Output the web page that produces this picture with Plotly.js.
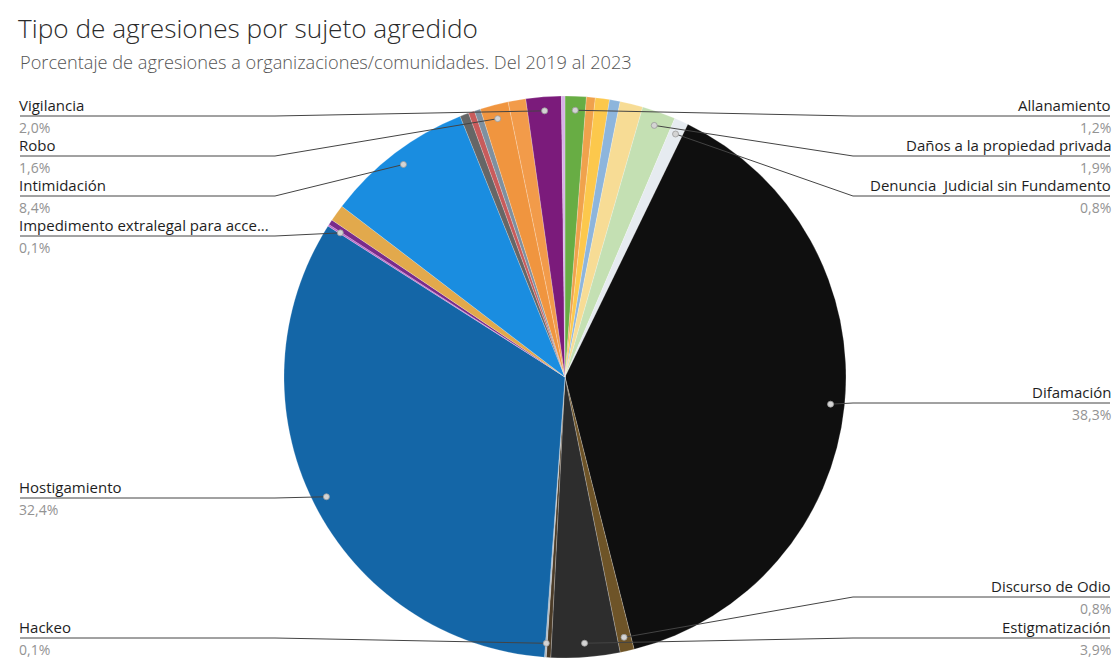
<!DOCTYPE html>
<html>
<head>
<meta charset="utf-8">
<script src="https://cdn.plot.ly/plotly-3.0.1.min.js"></script>
<style>html,body{margin:0;padding:0;background:#fff;}#chart{width:1120px;height:667px;}</style>
</head>
<body>
<div id="chart"></div>
<script>
// ---- data (clockwise from 12 o'clock) ----
const labels = [
  "Allanamiento", "Amenaza", "Ataque", "Campaña de desprestigio", "Criminalización",
  "Daños a la propiedad privada", "Denuncia  Judicial sin Fundamento", "Difamación",
  "Discurso de Odio", "Estigmatización", "Extorsión", "Hackeo", "Hostigamiento",
  "Impedimento extralegal para acce...", "Incautación", "Injerencia", "Intimidación",
  "Judicialización", "Lesiones", "Retención ilegal", "Robo", "Secuestro", "Vigilancia",
  "Violencia física"
];
const values = [
  1.2, 0.5, 0.8, 0.6, 1.3,
  1.9, 0.8, 38.3,
  0.8, 3.9, 0.25, 0.1, 32.4,
  0.1, 0.3, 0.95, 8.4,
  0.5, 0.35, 0.35, 1.6, 1.0, 2.0,
  0.2
];
const sliceColors = [
  "#68ad44", "#f0a24c", "#fcc84c", "#8db5dc", "#f7dc95",
  "#c4e0b3", "#e6ebf0", "#0f0f0f",
  "#6e5428", "#2d2d2d", "#4b3b27", "#a9b4bf", "#1466a7",
  "#c163c9", "#7a2b8b", "#e2a94c", "#1a8de0",
  "#666666", "#c85b5b", "#7f909f", "#f0953f", "#f29b4a", "#7b1b7b",
  "#d7b1e7"
];

// ---- callout layout (which slices get a label, where) ----
const callouts = [
  {name: "Vigilancia", side: "left", lineY: 116},
  {name: "Robo", side: "left", lineY: 156},
  {name: "Intimidación", side: "left", lineY: 196},
  {name: "Impedimento extralegal para acce...", side: "left", lineY: 236},
  {name: "Hostigamiento", side: "left", lineY: 498},
  {name: "Hackeo", side: "left", lineY: 638},
  {name: "Allanamiento", side: "right", lineY: 116},
  {name: "Daños a la propiedad privada", side: "right", lineY: 156},
  {name: "Denuncia  Judicial sin Fundamento", side: "right", lineY: 196},
  {name: "Difamación", side: "right", lineY: 403},
  {name: "Discurso de Odio", side: "right", lineY: 597},
  {name: "Estigmatización", side: "right", lineY: 638}
];

const W = 1120, H = 667;
const cx = 565, cy = 377, R = 281;
const px = x => x / W;
const py = y => 1 - y / H;

const total = values.reduce((a, b) => a + b, 0);
const cum = [];
values.reduce((acc, v, i) => { cum[i] = acc; return acc + v; }, 0);

const shapes = [];
const annotations = [];
const FAM = "Open Sans, Noto Sans, sans-serif";
const fontName = {family: FAM, size: 15, color: "#1e1e1e"};
const fontPct = {family: FAM, size: 14, color: "#939393"};

callouts.forEach(c => {
  const i = labels.indexOf(c.name);
  const a = (cum[i] + values[i] / 2) / total * 2 * Math.PI;
  const dx = cx + 0.95 * R * Math.sin(a);
  const dy = cy - 0.95 * R * Math.cos(a);
  const left = c.side === "left";
  const x0 = left ? 20 : 1110;
  const bend = left ? Math.min(275, dx) : Math.max(853, dx);
  shapes.push({
    type: "path", xref: "paper", yref: "paper",
    path: `M ${px(x0)},${py(c.lineY)} L ${px(bend)},${py(c.lineY)} L ${px(dx)},${py(dy)}`,
    line: {color: "#444", width: 1}
  });
  shapes.push({
    type: "circle", xref: "paper", yref: "paper",
    xsizemode: "pixel", ysizemode: "pixel",
    xanchor: px(dx), yanchor: py(dy),
    x0: -3, x1: 3, y0: -3, y1: 3,
    fillcolor: "#d4d4d4", line: {color: "#9a9a9a", width: 0.8}
  });
  const tx = left ? x0 - 2 : x0 + 2;
  annotations.push({
    xref: "paper", yref: "paper", x: px(tx), y: py(c.lineY),
    xanchor: left ? "left" : "right", yanchor: "bottom",
    text: c.name.replace(/ {2}/g, "&nbsp; "), showarrow: false, font: fontName, borderpad: 0
  });
  annotations.push({
    xref: "paper", yref: "paper", x: px(tx), y: py(c.lineY + 1),
    xanchor: left ? "left" : "right", yanchor: "top",
    text: values[i].toFixed(1).replace(".", ",") + "%", showarrow: false, font: fontPct, borderpad: 0
  });
});

annotations.push({
  xref: "paper", yref: "paper", x: px(18), y: py(62), xanchor: "left", yanchor: "middle",
  text: "Porcentaje de agresiones a organizaciones/comunidades. Del 2019 al 2023",
  showarrow: false, font: {family: FAM, size: 18.2, color: "#555", weight: 300}
});

const trace = {
  type: "pie",
  labels: labels,
  values: values,
  sort: false,
  direction: "clockwise",
  rotation: 0,
  marker: {colors: sliceColors, line: {color: "rgba(255,255,255,0.35)", width: 0.6}},
  textinfo: "none",
  hoverinfo: "label+percent",
  domain: {x: [(cx - R) / W, (cx + R) / W], y: [1 - (cy + R) / H, 1 - (cy - R) / H]}
};

const layout = {
  width: W, height: H,
  margin: {l: 0, r: 0, t: 0, b: 0},
  paper_bgcolor: "#fff",
  showlegend: false,
  title: {
    text: "Tipo de agresiones por sujeto agredido",
    x: px(18), xanchor: "left", xref: "paper",
    y: py(29), yanchor: "middle", yref: "paper",
    font: {family: FAM, size: 26.2, color: "#2b2b2b", weight: 300}
  },
  shapes: shapes,
  annotations: annotations
};

Plotly.newPlot("chart", [trace], layout, {displayModeBar: false, responsive: false});
</script>
</body>
</html>
